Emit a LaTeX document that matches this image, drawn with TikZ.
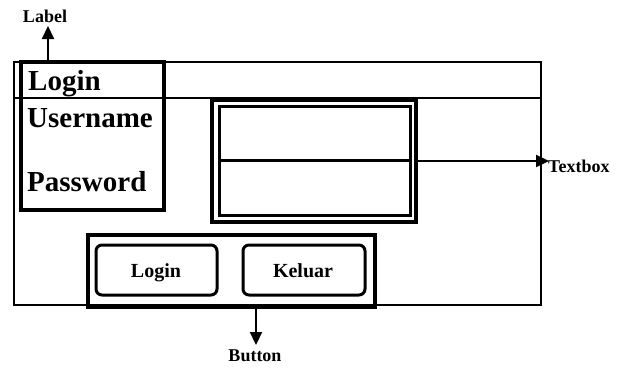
\documentclass[tikz,border=0pt]{standalone}
\usepackage{fontspec}
\setmainfont{Liberation Serif}
\usetikzlibrary{arrows.meta}
\tikzset{
  box/.style={draw, anchor=north west, inner sep=0pt, outer sep=0pt},
  biglabel/.style={font=\fontsize{29}{31}\selectfont\bfseries, anchor=base west, inner sep=0pt},
  smalllabel/.style={font=\fontsize{18}{20}\selectfont\bfseries, inner sep=0pt},
  btntext/.style={font=\fontsize{20}{22}\selectfont\bfseries, anchor=base, inner sep=0pt},
  pointer/.style={line width=2.2pt, -{Triangle[length=13pt,width=12pt]}},
}
\begin{document}
\begin{tikzpicture}[x=1pt,y=-1pt]
\useasboundingbox (0,0) rectangle (621,368);
% outer window frame
\node[box, line width=2.5pt, minimum width=527pt, minimum height=243pt] (frame) at (14,62) {};
\coordinate (barL) at (14,98);
\coordinate (barR) at (541,98);
\draw[line width=2.2pt] (barL) -- (barR);
% label box
\node[box, line width=4pt, minimum width=143pt, minimum height=148pt] (labelbox) at (21,62) {};
\node[biglabel] (tLogin) at (28,90) {Login};
\node[biglabel] (tUser) at (27,127) {Username};
\node[biglabel] (tPass) at (27,191) {Password};
% textbox group
\node[box, line width=4.5pt, minimum width=204pt, minimum height=122pt] (tbgroup) at (212,100) {};
\node[box, line width=3pt, minimum width=191pt, minimum height=54pt] (tb1) at (219,106) {};
\node[box, line width=3pt, minimum width=191pt, minimum height=55pt] (tb2) at (219,160) {};
% button group
\node[box, line width=4.5pt, minimum width=287pt, minimum height=72pt] (bgroup) at (88,235) {};
\node[box, line width=3pt, rounded corners=6pt, minimum width=121pt, minimum height=50pt] (bLogin) at (96,245) {};
\node[btntext] (tbLogin) at (156,277) {Login};
\node[box, line width=3pt, rounded corners=6pt, minimum width=122pt, minimum height=50pt] (bKeluar) at (243,245) {};
\node[btntext] (tbKeluar) at (303,277) {Keluar};
% annotations
\node[smalllabel] (lLabel) at (45,16) {Label};
\coordinate (labelFoot) at (48,62);
\coordinate (labelTip) at (48,26);
\draw[pointer] (labelFoot) -- (labelTip);
\node[smalllabel, anchor=west] (lTextbox) at (548,166) {Textbox};
\coordinate (tbFoot) at (416,161);
\coordinate (tbTip) at (549,161);
\draw[pointer] (tbFoot) -- (tbTip);
\node[smalllabel] (lButton) at (255,356) {Button};
\coordinate (btFoot) at (256,309);
\coordinate (btTip) at (256,345);
\draw[pointer] (btFoot) -- (btTip);
\end{tikzpicture}
\end{document}
